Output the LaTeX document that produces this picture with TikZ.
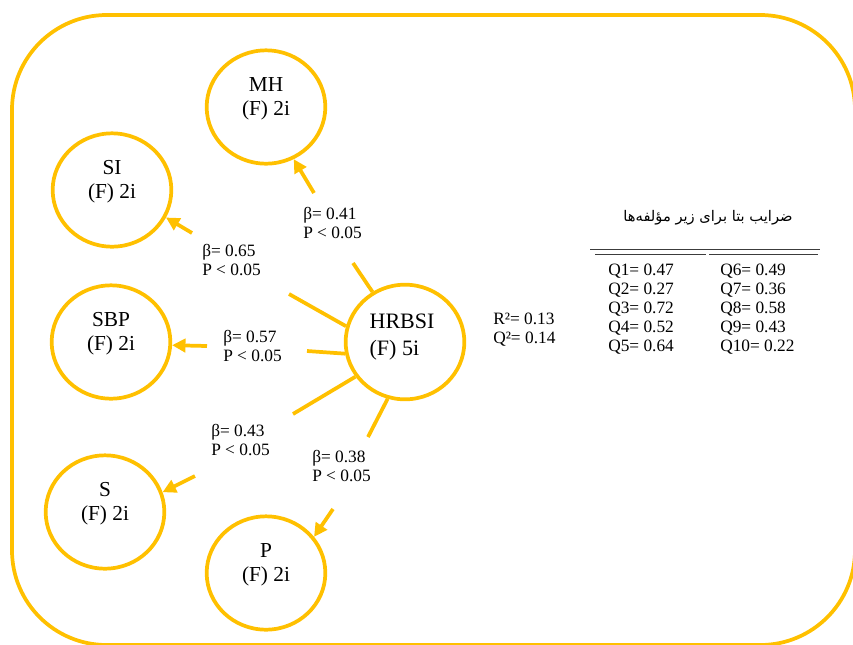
\documentclass[tikz,border=0pt]{standalone}
\usepackage{fontspec}
\setmainfont{Liberation Serif}
\newfontfamily\arabicfont[Script=Arabic]{DejaVu Sans}
\TeXXeTstate=1
\usetikzlibrary{shapes.geometric,arrows.meta}
\definecolor{gold}{RGB}{255,192,0}
\definecolor{rulegray}{RGB}{60,60,60}

\begin{document}
\begin{tikzpicture}[x=0.75pt,y=-0.75pt,
  frame/.style={draw=gold, line width=2.8pt, rounded corners=71pt},
  construct/.style={ellipse, draw=gold, line width=2.8pt,
    minimum width=89pt, minimum height=85pt, inner sep=0pt},
  ctext/.style={font=\fontsize{16}{18}\selectfont, align=center,
    inner sep=0pt, yshift=6.4pt},
  hrtext/.style={font=\fontsize{16.5}{20}\selectfont, align=left,
    inner sep=0pt, yshift=3.5pt, xshift=-2.2pt},
  link/.style={draw=gold, line width=2.8pt},
  arrowlink/.style={link, -{Triangle[length=10pt,width=10pt]}},
  coefftext/.style={font=\fontsize{13}{14.25}\selectfont, align=left,
    anchor=west, inner sep=0pt},
  rule/.style={draw=rulegray, line width=0.9pt},
]
\useasboundingbox (0,0) rectangle (853,644);
\clip (0,0) rectangle (853,644);

% outer frame
\draw[frame] (12,15) rectangle (855,645);

% constructs
\node[construct, label={[ctext]center:{MH\\(F) 2i}}] (mh) at (266,107) {};
\node[construct, label={[ctext]center:{SI\\(F) 2i}}] (si) at (112,190) {};
\node[construct, label={[ctext]center:{SBP\\(F) 2i}}] (sbp) at (111,342) {};
\node[construct, label={[ctext]center:{S\\(F) 2i}}] (s) at (105,512) {};
\node[construct, label={[ctext]center:{P\\(F) 2i}}] (p) at (266,573) {};
\node[construct, minimum height=86pt,
      label={[hrtext]center:{HRBSI\\(F) 5i}}] (hr) at (405,342) {};

% break points of the paths around the coefficient labels
\coordinate (mhA) at (353,263);  \coordinate (mhB) at (314,193);
\coordinate (siA) at (289,294);  \coordinate (siB) at (192,233);
\coordinate (sbpA) at (307,351); \coordinate (sbpB) at (207,346);
\coordinate (sA) at (293,414);   \coordinate (sB) at (195,476);
\coordinate (pA) at (368,437);   \coordinate (pB) at (333,509);

% paths from HRBSI to each sub-construct
\draw[link] (hr.123) -- (mhA);
\draw[arrowlink] (mhB) -- (mh.298);
\draw[link] (hr.165) -- (siA);
\draw[arrowlink] (siB) -- (si.333);
\draw[link] (hr.191) -- (sbpA);
\draw[arrowlink] (sbpB) -- (sbp.357);
\draw[link] (hr.215) -- (sA);
\draw[arrowlink] (sB) -- (s.19);
\draw[link] (hr.253) -- (pA);
\draw[arrowlink] (pB) -- (p.37);

% path coefficients
\node[coefftext] (bmh) at (303,223.5) {β= 0.41\\P < 0.05};
\node[coefftext] (bsi) at (202,260.5) {β= 0.65\\P < 0.05};
\node[coefftext] (bsbp) at (223,346) {β= 0.57\\P < 0.05};
\node[coefftext] (bs) at (211,440) {β= 0.43\\P < 0.05};
\node[coefftext] (bp) at (312,466) {β= 0.38\\P < 0.05};
\node[coefftext] (fit) at (493,330) {R²= 0.13\\Q²= 0.14};

% item loadings table
\node[font=\arabicfont\fontsize{11}{13}\selectfont, inner sep=0pt]
  (title) at (708,218) {\beginR ضرایب بتا برای زیر مؤلفه‌ها\endR};
\draw[rule] (590,249.5) -- (820,249.5);
\draw[rule] (595,254.5) -- (706,254.5);
\draw[rule] (709,254.5) -- (818,254.5);
\node[coefftext, anchor=north west] (qtab) at (608,261.7) {%
  \begin{tabular}{@{}p{84pt}@{}l@{}}
  Q1= 0.47 & Q6= 0.49\\
  Q2= 0.27 & Q7= 0.36\\
  Q3= 0.72 & Q8= 0.58\\
  Q4= 0.52 & Q9= 0.43\\
  Q5= 0.64 & Q10= 0.22
  \end{tabular}};
\end{tikzpicture}
\end{document}
